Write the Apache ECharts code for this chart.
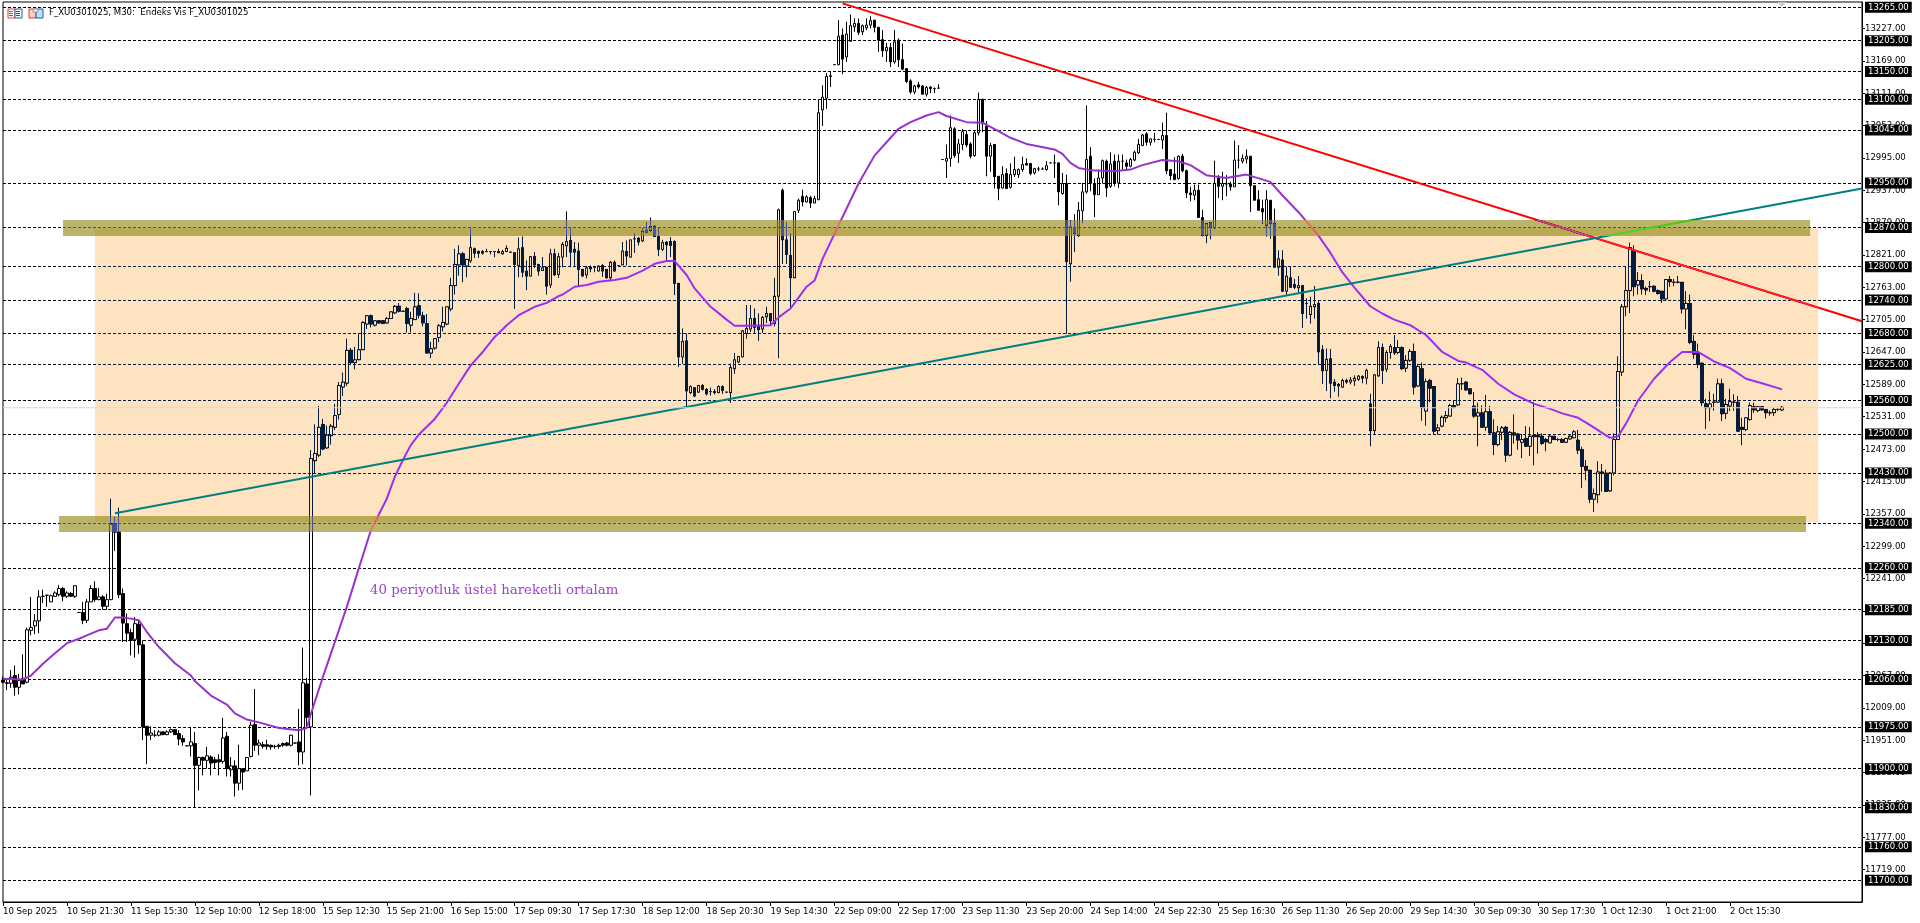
<!DOCTYPE html>
<html><head><meta charset="utf-8"><style>html,body{margin:0;padding:0;background:#fff}#c{width:1920px;height:923px}</style>
<script src="https://cdn.jsdelivr.net/npm/echarts@6/dist/echarts.min.js"></script></head><body><div id="c"></div>
<script>
const FONT='"DejaVu Sans Condensed","Liberation Sans",sans-serif';
const FS=9.5;
const BAR_COUNT=466;
const xTicks=['10 Sep 2025','10 Sep 21:30','11 Sep 15:30','12 Sep 10:00','12 Sep 18:00','15 Sep 12:30','15 Sep 21:00','16 Sep 15:00','17 Sep 09:30','17 Sep 17:30','18 Sep 12:00','18 Sep 20:30','19 Sep 14:30','22 Sep 09:00','22 Sep 17:00','23 Sep 11:30','23 Sep 20:00','24 Sep 14:00','24 Sep 22:30','25 Sep 16:30','26 Sep 11:30','26 Sep 20:00','29 Sep 14:30','30 Sep 09:30','30 Sep 17:30','1 Oct 12:30','1 Oct 21:00','2 Oct 15:30'];
const levels=[13265,13205,13150,13100,13045,12950,12870,12800,12740,12680,12625,12560,12500,12430,12340,12260,12185,12130,12060,11975,11900,11830,11760,11700];
const bidPrice=12547;
// open, close, low, high
const ohlc=[
[12059,12055,12053,12065],[12054,12053,12041,12061],[12053,12064,12045,12077],[12067,12046,12031,12085],[12046,12058,12033,12070],[12062,12052,12052,12105],[12055,12149,12053,12153],[12148,12153,12139,12208],[12156,12165,12141,12177],[12165,12208,12143,12220],
[12209,12209,12197,12221],[12211,12211,12190,12211],[12199,12210,12199,12212],[12209,12215,12208,12218],[12212,12223,12209,12229],[12223,12209,12200,12226],[12209,12215,12206,12218],[12214,12209,12209,12217],[12209,12228,12206,12228],[12180,12180,12180,12180],
[12180,12166,12159,12199],[12166,12199,12161,12204],[12199,12223,12199,12229],[12223,12203,12199,12236],[12203,12208,12202,12224],[12208,12191,12185,12211],[12191,12203,12185,12214],[12203,12339,12202,12384],[12339,12324,12290,12350],[12324,12212,12206,12368],
[12214,12161,12127,12223],[12160,12143,12127,12178],[12144,12130,12103,12151],[12132,12160,12099,12172],[12159,12122,12106,12166],[12122,11975,11951,12130],[11976,11960,11908,11976],[11960,11964,11951,11976],[11960,11960,11957,11969],[11960,11966,11958,11969],
[11966,11961,11960,11967],[11961,11966,11960,11969],[11966,11970,11964,11972],[11970,11961,11961,11971],[11963,11953,11942,11969],[11954,11948,11941,11960],[11941,11941,11941,11941],[11941,11948,11922,11975],[11945,11906,11830,11966],[11906,11920,11861,11922],
[11920,11915,11888,11922],[11915,11923,11900,11939],[11921,11910,11888,11924],[11916,11911,11900,11921],[11916,11912,11888,11926],[11913,11955,11909,11991],[11958,11900,11886,11966],[11898,11905,11886,11921],[11905,11874,11850,11915],[11874,11900,11861,11943],
[11900,11894,11862,11900],[11896,11920,11896,11921],[11922,11978,11920,11984],[11979,11942,11932,12043],[11942,11946,11924,11952],[11943,11940,11936,11948],[11943,11940,11934,11952],[11942,11939,11934,11943],[11940,11940,11936,11943],[11942,11940,11936,11945],
[11945,11942,11939,11947],[11946,11942,11940,11948],[11942,11960,11940,11961],[11946,11946,11946,11946],[11948,11930,11906,12007],[11930,12054,11908,12117],[12052,11992,11973,12063],[11975,12456,11852,12471],
[12452,12465,12429,12517],[12462,12512,12459,12550],[12517,12473,12471,12527],[12475,12498,12474,12515],[12497,12514,12481,12518],[12512,12533,12507,12554],[12535,12587,12526,12593],[12584,12593,12568,12610],[12591,12650,12586,12671],[12650,12628,12624,12654],
[12628,12633,12616,12656],[12633,12651,12633,12680],[12651,12700,12651,12702],[12697,12712,12688,12712],[12712,12697,12691,12714],[12695,12703,12693,12704],[12703,12699,12698,12704],[12703,12698,12697,12704],[12699,12707,12698,12710],[12707,12719,12706,12719],
[12717,12729,12715,12731],[12729,12720,12718,12735],[12720,12720,12720,12720],[12725,12698,12682,12728],[12695,12707,12682,12719],[12705,12728,12705,12753],[12730,12713,12707,12752],[12712,12699,12693,12719],[12698,12645,12645,12715],[12645,12653,12636,12665],
[12654,12671,12651,12671],[12673,12694,12665,12697],[12692,12700,12684,12728],[12697,12728,12695,12728],[12724,12766,12720,12780],[12766,12804,12750,12832],[12803,12823,12784,12838],[12823,12803,12772,12826],[12801,12813,12781,12814],[12810,12834,12807,12870],
[12832,12824,12816,12834],[12827,12824,12816,12829],[12827,12824,12822,12830],[12827,12827,12826,12832],[12827,12827,12822,12827],[12827,12827,12817,12827],[12827,12825,12824,12832],[12823,12827,12822,12830],[12827,12833,12826,12838],[12826,12826,12826,12826],
[12825,12804,12724,12826],[12802,12832,12781,12852],[12834,12790,12781,12854],[12792,12783,12758,12811],[12783,12818,12783,12818],[12818,12803,12798,12826],[12804,12792,12784,12804],[12793,12798,12793,12817],[12799,12765,12750,12799],[12767,12823,12762,12832],
[12823,12785,12784,12832],[12786,12818,12780,12824],
[12817,12840,12799,12844],[12837,12845,12817,12899],[12847,12826,12799,12871],[12831,12826,12799,12844],[12828,12795,12765,12843],[12795,12783,12783,12796],[12785,12798,12779,12801],[12799,12796,12790,12802],[12799,12799,12790,12801],[12792,12801,12792,12802],
[12802,12792,12782,12805],[12795,12780,12779,12795],[12780,12808,12774,12810],[12808,12792,12792,12811],[12802,12802,12802,12802],[12803,12828,12803,12844],[12827,12819,12802,12847],[12817,12848,12817,12848],[12850,12850,12825,12859],[12851,12844,12838,12853],
[12846,12863,12844,12868],[12865,12862,12861,12879],[12865,12872,12862,12888],[12872,12854,12853,12874],[12854,12831,12819,12868],[12831,12843,12828,12848],[12844,12839,12810,12846],[12845,12838,12817,12853],[12845,12770,12749,12847],[12770,12638,12620,12770],
[12638,12666,12626,12689],[12667,12577,12548,12680],[12574,12585,12572,12587],[12583,12568,12566,12584],[12575,12587,12574,12587],[12587,12580,12578,12589],[12580,12572,12569,12582],[12576,12576,12569,12583],[12576,12574,12571,12580],[12574,12585,12574,12587],
[12585,12578,12572,12587],[12575,12575,12575,12575],[12574,12619,12556,12626],[12617,12633,12608,12645],[12629,12639,12627,12639],[12638,12685,12638,12686],[12680,12689,12671,12731],[12688,12707,12683,12731],[12707,12691,12680,12725],[12695,12687,12667,12716],
[12688,12709,12681,12711],[12710,12716,12699,12728],[12716,12703,12695,12716],[12698,12747,12693,12780],[12747,12902,12636,12904],[12937,12848,12805,12940],[12848,12822,12805,12879],[12820,12780,12725,12859],[12780,12899,12780,12899],[12901,12919,12896,12922],
[12926,12916,12908,12938],[12916,12925,12915,12928],[12924,12914,12905,12927],[12914,12922,12914,12927],[12920,13076,12919,13100],[13081,13104,13052,13125],[13102,13141,13083,13147],[13142,13141,13122,13150],[13162,13162,13162,13162],[13162,13213,13161,13242],
[13215,13172,13145,13227],[13176,13217,13167,13239],[13204,13232,13204,13252],[13230,13236,13221,13245],[13236,13220,13215,13245],[13221,13232,13215,13234],[13228,13233,13224,13245],[13233,13241,13227,13249],[13242,13229,13220,13242],[13229,13206,13185,13230],
[13207,13187,13176,13224],[13187,13193,13167,13201],[13193,13167,13158,13201],[13167,13203,13164,13224],[13206,13171,13158,13209],[13171,13154,13152,13200],[13155,13132,13129,13155],[13133,13113,13110,13136],[13113,13124,13109,13126],[13126,13122,13119,13131],
[13124,13109,13109,13125],[13109,13121,13105,13124],[13122,13119,13111,13123],[13119,13119,13111,13121],[13120,13120,13119,13127],[12992,12992,12992,12992],[12989,12994,12959,13019],[12994,13049,12979,13071],[13047,12999,12995,13050],[13003,13020,12986,13029],
[13019,13042,13009,13047],[13037,13018,13014,13044],[13020,12998,12994,13023],[12999,13040,12997,13043],[13040,13100,13035,13112],[13100,13057,13041,13101],[13052,12998,12962,13061],[12998,13017,12970,13022],[13019,12961,12940,13020],[12962,12940,12919,12962],
[12941,12965,12940,12980],[12967,12940,12940,12976],[12942,12965,12940,12985],[12965,12974,12961,12997],[12965,12974,12959,12976],[12974,12983,12970,12997],[12985,12982,12982,12994],[12985,12967,12964,12985],[12968,12976,12965,12977],[12975,12975,12971,12979],
[12975,12975,12974,12978],[12974,12981,12972,12989],[12986,12986,12986,12986],[12986,12986,12959,13001],[12986,12934,12910,12987],[12931,12949,12929,12968],[12949,12809,12680,12965],[12805,12871,12773,12883],[12870,12860,12826,12894],[12856,12901,12853,12916],
[12900,12934,12878,12950],[12934,12992,12931,13089],[12998,12949,12935,13014],[12949,12929,12889,12958],[12929,12959,12929,12974],[12959,12990,12949,12992],[12989,12941,12925,12992],[12944,12984,12941,13005],[12989,12949,12944,13001],[12950,12989,12941,13001],
[12989,12989,12972,13001],[12986,12980,12972,12992],[12980,12992,12978,12995],[12991,13005,12989,13008],[13004,13019,13002,13029],[13017,13036,13016,13038],[13038,13023,13017,13041],[13023,13029,13017,13030],[13028,13028,13023,13040],[13028,13028,13028,13028],
[13027,13035,13011,13058],[13035,12972,12966,13076],[12974,12963,12955,12975],[12966,12956,12955,12996],[12958,12998,12956,12999],[12998,12972,12969,13002],[12972,12932,12923,12974],[12932,12929,12917,12943],[12928,12937,12919,12947],[12937,12888,12888,12947],
[12888,12856,12854,12902],[12856,12877,12842,12878],[12879,12870,12849,12880],[12870,12949,12868,12990],[12959,12944,12923,12964],[12944,12949,12919,12970],[12948,12948,12926,12964],[12948,12943,12936,12952],[12943,12991,12943,13026],[12991,12991,12976,13018],
[12989,12994,12985,13001],[12993,12998,12985,13010],[12998,12945,12898,12998],[12945,12919,12919,12946],[12920,12901,12900,12937],[12904,12898,12877,12920],[12874,12920,12854,12937],[12919,12877,12850,12919],[12877,12799,12799,12904],[12799,12814,12784,12829],
[12812,12756,12755,12829],[12756,12783,12749,12800],[12780,12763,12763,12800],[12768,12763,12760,12778],[12762,12766,12754,12783],[12766,12716,12690,12766],[12734,12734,12707,12743],[12714,12729,12698,12746],[12728,12732,12707,12765],
[12734,12647,12624,12738],[12651,12613,12590,12659],[12614,12634,12577,12653],[12635,12591,12564,12652],[12593,12587,12576,12598],[12589,12586,12567,12591],[12584,12596,12583,12599],[12596,12593,12590,12599],[12593,12597,12589,12602],[12595,12600,12586,12605],
[12598,12604,12595,12605],[12603,12600,12591,12605],[12600,12614,12589,12617],[12554,12506,12478,12572],[12506,12606,12498,12607],[12604,12655,12603,12666],[12655,12614,12590,12662],[12616,12646,12611,12650],[12646,12657,12635,12661],[12655,12645,12642,12677],
[12646,12655,12643,12668],[12655,12617,12615,12657],[12618,12632,12611,12641],[12632,12648,12629,12652],[12648,12584,12571,12662],[12586,12621,12584,12625],[12617,12547,12524,12628],[12541,12594,12515,12599],[12596,12582,12557,12599],[12585,12505,12499,12585],
[12506,12511,12499,12518],[12514,12530,12512,12533],[12529,12533,12521,12541],[12532,12551,12532,12554],[12551,12548,12546,12560],[12552,12590,12550,12600],[12590,12590,12579,12601],[12593,12579,12577,12595],[12581,12572,12571,12582],[12550,12532,12529,12575],
[12532,12538,12478,12556],[12538,12512,12511,12551],[12512,12540,12506,12570],[12540,12502,12500,12550],[12502,12481,12462,12526],[12481,12504,12478,12514],[12503,12511,12489,12514],[12512,12462,12450,12514],[12462,12503,12460,12505],[12502,12498,12483,12535],
[12500,12489,12472,12502],[12485,12490,12457,12500],[12492,12478,12477,12514],[12478,12496,12461,12512],[12498,12495,12444,12557],[12498,12495,12465,12503],[12496,12483,12480,12501],[12490,12486,12469,12493],[12484,12496,12484,12499],[12496,12490,12489,12496],
[12490,12490,12487,12493],
[12490,12485,12485,12493],[12485,12492,12484,12493],[12491,12496,12490,12499],[12493,12504,12493,12507],[12489,12471,12464,12507],[12472,12442,12403,12477],[12442,12435,12417,12453],[12435,12383,12376,12436],[12383,12393,12360,12402],[12391,12432,12376,12451],
[12432,12429,12397,12446],[12430,12397,12396,12436],[12398,12430,12396,12432],[12430,12490,12426,12501],[12490,12612,12490,12639],[12611,12728,12604,12733],[12728,12757,12711,12799],[12757,12834,12717,12843],[12828,12764,12747,12838],[12767,12775,12750,12790],
[12775,12760,12750,12786],[12761,12758,12749,12764],[12764,12764,12755,12774],[12765,12756,12754,12766],[12757,12752,12750,12759],[12756,12742,12735,12756],[12742,12777,12741,12777],[12777,12773,12764,12783],[12772,12772,12765,12778],[12772,12772,12770,12783],
[12772,12724,12716,12772],[12724,12734,12688,12756],[12734,12664,12661,12750],[12666,12643,12635,12677],[12644,12625,12618,12662],[12627,12556,12550,12628],[12554,12547,12509,12563],[12547,12554,12523,12576],[12557,12557,12542,12572],[12557,12590,12556,12599],
[12590,12536,12523,12599],[12537,12553,12527,12563],[12550,12558,12541,12581],[12557,12557,12542,12571],[12557,12505,12504,12568],[12512,12508,12480,12529],[12508,12529,12505,12530],[12526,12551,12524,12556],[12549,12543,12538,12556],[12542,12549,12539,12550],
[12549,12543,12542,12549],[12544,12538,12528,12544],[12538,12538,12533,12542],[12538,12544,12532,12547],[12544,12544,12541,12546],[12543,12548,12541,12550]
];
// 40-period EMA, read at the bar index of each visible vertex
const ema=[[0,12061],[5,12060],[7,12067],[10,12088],[13,12107],[16,12125],[19,12133],[22,12142],[24,12148],[26,12151],[28,12171],[30,12171],[32,12169],[34,12166],[36,12145],[39,12118],[43,12089],[47,12067],[48,12057],[52,12031],[56,12015],[58,11999],[61,11988],[64,11983],[69,11973],[74,11969],[76,11973],[77,11998],[80,12064],[83,12127],[86,12190],[89,12259],[92,12327],[96,12384],[98,12423],[100,12453],[102,12480],[104,12499],[108,12527],[111,12556],[114,12590],[117,12623],[120,12647],[123,12674],[126,12695],[129,12713],[133,12728],[136,12735],[139,12747],[140,12750],[143,12764],[146,12767],[149,12773],[153,12776],[156,12780],[160,12793],[163,12805],[166,12810],[168,12810],[171,12785],[173,12761],[177,12728],[181,12705],[183,12694],[188,12694],[192,12695],[194,12709],[197,12725],[201,12764],[203,12775],[205,12814],[207,12844],[210,12889],[214,12949],[218,12999],[221,13023],[224,13047],[227,13059],[231,13071],[234,13077],[236,13070],[241,13059],[245,13058],[249,13043],[252,13031],[256,13020],[263,13010],[265,13002],[267,12986],[269,12977],[272,12973],[278,12971],[282,12974],[285,12982],[290,12991],[294,12989],[297,12982],[301,12964],[306,12959],[311,12965],[317,12952],[320,12928],[324,12898],[329,12856],[332,12825],[335,12790],[338,12763],[342,12729],[345,12716],[348,12705],[352,12695],[356,12677],[360,12647],[364,12631],[366,12628],[370,12615],[374,12590],[378,12571],[383,12554],[387,12545],[390,12537],[394,12529],[397,12516],[400,12502],[402,12493],[404,12496],[406,12519],[409,12560],[413,12599],[417,12629],[420,12647],[424,12647],[428,12630],[432,12618],[436,12599],[440,12591],[445,12580]];
const redLine=[[210,13272],[465,12702]];
const tealLine=[[28,12358],[465,12940]];
// zones: bar from, bar to, price top, price bottom
const orangeZones=[[23,454,12854.5,12352.5],[452,454,12869,12854.5],[451,454,12352.5,12342]];
const bandZones=[[15,452,12883,12869],[15,23,12869,12854.5],[14,451,12342,12325],[14,23,12352.5,12342]];
const bothZones=[[23,452,12869,12854.5],[23,451,12352.5,12342]];
const categories=Array.from({length:BAR_COUNT},(_,i)=>i%16===0?(xTicks[i/16]||''):'');
function zoneSeries(data,color){return {type:'custom',coordinateSystem:'cartesian2d',z:4,blendMode:'difference',silent:true,clip:false,data,itemStyle:{color},
 renderItem(p,api){const z=data[p.dataIndex];const a=api.coord([z[0],z[2]]),b=api.coord([z[1],z[3]]);
 const y0=Math.round(a[1]),y1=Math.round(b[1]);return {type:'rect',shape:{x:a[0],y:y0,width:b[0]-a[0],height:y1-y0},style:{fill:color}};}};}
function bandPieces(normal,orange,band,both){return [{lte:12325,color:normal},{gt:12325,lte:12342,color:band},{gt:12342,lte:12352.5,color:both},{gt:12352.5,lte:12854.5,color:orange},{gt:12854.5,lte:12869,color:both},{gt:12869,lte:12883,color:band},{gt:12883,color:normal}];}
const chart=echarts.init(document.getElementById('c'),null,{renderer:'canvas'});
chart.setOption({animation:false,backgroundColor:'#fff',
 grid:{left:2,top:2,width:1860,height:900,show:true,borderColor:'#000',borderWidth:1,backgroundColor:'transparent'},
 xAxis:{type:'category',data:categories,boundaryGap:false,
  axisLine:{lineStyle:{color:'#000',width:1}},
  axisTick:{length:4,interval:i=>i%16===0&&i<=432,lineStyle:{color:'#000'}},
  axisLabel:{interval:i=>i%16===0&&i<=432,align:'left',color:'#000',fontFamily:FONT,fontSize:FS,margin:5,hideOverlap:false},splitLine:{show:false}},
 yAxis:{type:'value',position:'right',min:11661,max:13274.4,interval:58,
  axisLine:{show:true,lineStyle:{color:'#000',width:1}},
  axisTick:{show:true,length:3,lineStyle:{color:'#000'}},
  axisLabel:{color:'#000',fontFamily:FONT,fontSize:FS,margin:3,showMinLabel:false,showMaxLabel:false,hideOverlap:false,formatter:v=>v.toFixed(2)},splitLine:{show:false}},
 visualMap:[
  {show:false,type:'piecewise',seriesIndex:3,dimension:1,pieces:bandPieces('rgb(153,50,204)','rgb(155,46,243)','rgb(221,120,95)','rgb(223,100,96)')},
  {show:false,type:'piecewise',seriesIndex:4,dimension:1,pieces:bandPieces('rgb(0,128,128)','rgb(0,128,128)','rgb(68,202,19)','rgb(70,214,44)')}],
 series:[
  {name:'levels',type:'line',data:[],z:1,silent:true,
   markLine:{silent:true,z:1,symbol:'none',animation:false,precision:2,
    lineStyle:{type:[3,2],color:'#000',width:1},
    label:{position:'end',distance:3,color:'#fff',backgroundColor:'#000',fontFamily:FONT,fontSize:FS,padding:[1,3,1,3],lineHeight:9,formatter:p=>p.value.toFixed(2)},
    data:levels.map(v=>({yAxis:v}))},
   markPoint:{silent:true,z:6,symbol:'triangle',symbolRotate:180,symbolSize:[9,5],itemStyle:{color:'#c8c8c8'},label:{show:false},data:[{coord:[445,13270]}]}},
  {name:'F_XU0301025',type:'candlestick',data:ohlc,z:2,barWidth:3,silent:true,
   itemStyle:{color:'rgba(255,255,255,0)',color0:'#000',borderColor:'#000',borderColor0:'#000',borderColorDoji:'#000',borderWidth:1}},
  {name:'Direnç',type:'line',data:redLine,z:3,silent:true,symbol:'none',lineStyle:{color:'#f00',width:2}},
  {name:'EMA40',type:'line',data:ema,z:5,silent:true,symbol:'none',lineStyle:{width:2},clip:true},
  {name:'Destek',type:'line',data:tealLine,z:5,silent:true,symbol:'none',lineStyle:{width:2}},
  zoneSeries(orangeZones,'rgb(2,28,63)'),
  zoneSeries(bandZones,'rgb(68,74,147)'),
  zoneSeries(bothZones,'rgb(70,86,172)'),
  {name:'Bid',type:'line',data:[[0,bidPrice],[465,bidPrice]],z:5,silent:true,symbol:'none',lineStyle:{color:'#d3d8e0',width:1}}
 ],
 graphic:[
  {type:'text',left:49,top:8,z:10,style:{text:'F_XU0301025, M30:  Endeks Vis F_XU0301025',fill:'#000',font:FS+'px '+FONT}},
  {type:'text',left:370,top:584,z:10,style:{text:'40 periyotluk üstel hareketli ortalam',fill:'#a03fd6',font:'13.3px "DejaVu Serif",serif'}},
  {type:'rect',left:7.5,top:8.5,z:10,shape:{width:7,height:9},style:{fill:'#fff',stroke:'#e53935'}},
  {type:'rect',left:14.5,top:8.5,z:10,shape:{width:7,height:9},style:{fill:'#fff',stroke:'#0b5fa5'}},
  {type:'rect',left:9,top:11,z:11,shape:{width:4,height:1},style:{fill:'#e53935'}},
  {type:'rect',left:9,top:13,z:11,shape:{width:4,height:1},style:{fill:'#e53935'}},
  {type:'rect',left:9,top:15,z:11,shape:{width:4,height:1},style:{fill:'#e53935'}},
  {type:'rect',left:16,top:11,z:11,shape:{width:4,height:1},style:{fill:'#0b5fa5'}},
  {type:'rect',left:16,top:13,z:11,shape:{width:4,height:1},style:{fill:'#0b5fa5'}},
  {type:'rect',left:16,top:15,z:11,shape:{width:4,height:1},style:{fill:'#0b5fa5'}},
  {type:'rect',left:28.5,top:8.5,z:10,shape:{width:7,height:9},style:{fill:'#fbd0c8',stroke:'#e53935'}},
  {type:'rect',left:35.5,top:8.5,z:10,shape:{width:7,height:9},style:{fill:'#bfe0f5',stroke:'#0b5fa5'}},
  {type:'rect',left:32.5,top:8.5,z:11,shape:{width:5,height:3},style:{fill:'#eee',stroke:'#999'}}
 ]
});
</script></body></html>
